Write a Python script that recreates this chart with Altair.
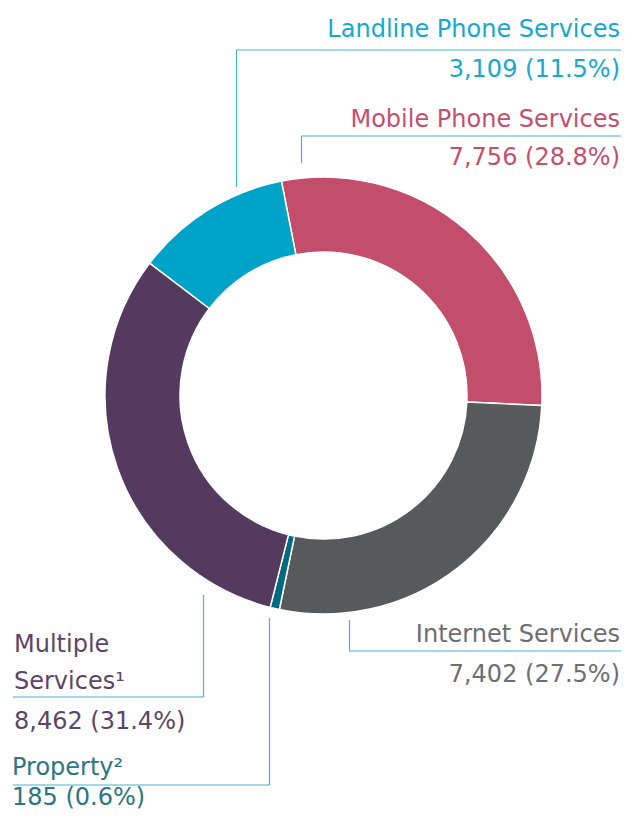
import math
import altair as alt
import pandas as pd

categories = ["Mobile Phone Services", "Internet Services", "Property", "Multiple Services", "Landline Phone Services"]
values = [7756, 7402, 185, 8462, 3109]
percents = ["28.8", "27.5", "0.6", "31.4", "11.5"]
slice_colors = ["#c24e6b", "#58595b", "#006b7f", "#553a60", "#00a3c8"]
text_colors = ["#c4506d", "#6d6e71", "#2a7686", "#5b4568", "#17a8cf"]
line_color = "#45b3d4"
FONT = "DejaVu Sans"
FS = 24

df = pd.DataFrame({"cat": categories, "value": values, "idx": list(range(len(values)))})

O = 8  # page margin offset
R = 620  # right edge for right-aligned labels (page px)
start = math.radians(-11.1)

donut = alt.Chart(df).mark_arc(outerRadius=218.5, innerRadius=143.5, stroke="white", strokeWidth=1.5).encode(
    theta=alt.Theta("value:Q", stack=True, scale=alt.Scale(range=[start, start + 2 * math.pi])),
    order=alt.Order("idx:Q"),
    color=alt.Color("cat:N", scale=alt.Scale(domain=categories, range=slice_colors), legend=None),
    x=alt.value(323.5 - O),
    y=alt.value(395.5 - O),
)

def amount(i):
    return f"{values[i]:,} ({percents[i]}%)"

def txt(s, x, y, color, align):
    return alt.Chart(alt.Data(values=[{}])).mark_text(
        text=s, align=align, baseline="alphabetic", font=FONT, fontSize=FS, color=color
    ).encode(x=alt.value(x - O), y=alt.value(y - O))

def rule(x1, y1, x2, y2):
    return alt.Chart(alt.Data(values=[{}])).mark_rule(color=line_color, strokeWidth=1.2).encode(
        x=alt.value(x1 - O), y=alt.value(y1 - O), x2=alt.value(x2 - O), y2=alt.value(y2 - O)
    )

layers = [donut]
# Landline
layers += [rule(236.5, 50, 236.5, 187), rule(236.5, 50, R + 1, 50),
           txt(categories[4], R, 37, text_colors[4], "right"),
           txt(amount(4), R, 77, text_colors[4], "right")]
# Mobile
layers += [rule(301.5, 136, 301.5, 163), rule(301.5, 136, R + 1, 136),
           txt(categories[0], R, 127, text_colors[0], "right"),
           txt(amount(0), R, 165, text_colors[0], "right")]
# Internet
layers += [rule(349.5, 620, 349.5, 651), rule(349.5, 651, R + 1, 651),
           txt(categories[1], R, 642, text_colors[1], "right"),
           txt(amount(1), R, 682, text_colors[1], "right")]
# Multiple
layers += [rule(203.5, 595, 203.5, 697), rule(13, 697, 203.5, 697),
           txt("Multiple", 14, 652, text_colors[3], "left"),
           txt("Services\u00b9", 14, 689, text_colors[3], "left"),
           txt(amount(3), 14, 729, text_colors[3], "left")]
# Property
layers += [rule(269.5, 618, 269.5, 785), rule(13, 785, 269.5, 785),
           txt("Property\u00b2", 12, 775, text_colors[2], "left"),
           txt(amount(2), 12, 805, text_colors[2], "left")]

chart = alt.layer(*layers).properties(
    width=613, height=803, padding=0, autosize=alt.AutoSizeParams(type="none")
).configure_view(stroke=None)

chart.save("out.html", embed_options={"renderer": "svg", "actions": False})
